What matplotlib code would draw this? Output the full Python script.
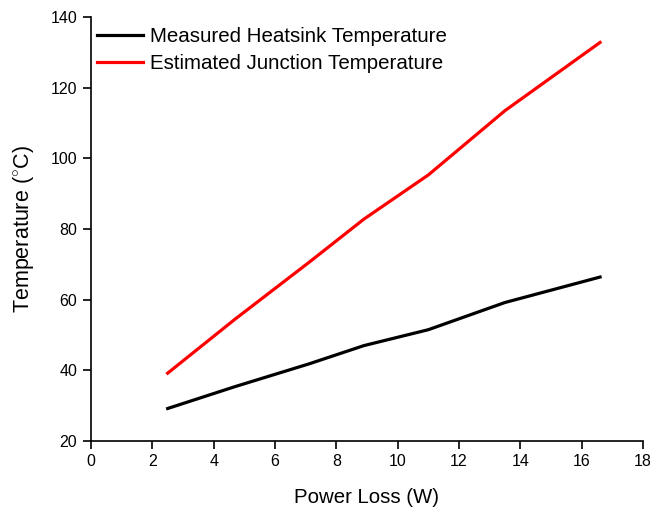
import matplotlib
matplotlib.use("Agg")
import matplotlib.pyplot as plt

plt.rcParams['font.family'] = ['Liberation Sans', 'DejaVu Sans']
plt.rcParams['mathtext.fontset'] = 'custom'
plt.rcParams['mathtext.rm'] = 'Liberation Sans'

power_loss = [2.5, 4.7, 7.1, 8.9, 11.0, 13.5, 16.6]
heatsink_temp = [29.2, 35.4, 41.8, 47.0, 51.5, 59.2, 66.4]
junction_temp = [39.2, 54.5, 70.5, 82.8, 95.3, 113.5, 132.8]

x_ticks = [0, 2, 4, 6, 8, 10, 12, 14, 16, 18]
y_ticks = [20, 40, 60, 80, 100, 120, 140]

fig = plt.figure(figsize=(6.57, 5.11), dpi=100)
ax = fig.add_axes([91 / 657, 1 - 441 / 511, (643 - 91) / 657, (441 - 17) / 511])

ax.plot(power_loss, heatsink_temp, color='black', lw=2.3, label='Measured Heatsink Temperature')
ax.plot(power_loss, junction_temp, color='#ff0000', lw=2.3, label='Estimated Junction Temperature')

ax.set_xlim(0, 18)
ax.set_ylim(20, 140)
ax.set_xticks(x_ticks)
ax.set_yticks(y_ticks)
ax.spines['top'].set_visible(False)
ax.spines['right'].set_visible(False)
for s in ('left', 'bottom'):
    ax.spines[s].set_linewidth(1.2)
ax.tick_params(axis='y', direction='out', length=6, width=1.2, labelsize=11.5, pad=4)
ax.tick_params(axis='x', direction='out', length=6, width=1.2, labelsize=11.5, pad=3)

ax.set_xlabel('Power Loss (W)', fontsize=14.7, labelpad=14)
ax.set_ylabel(r'Temperature ($^{\circ}$C)', fontsize=15.5, labelpad=10)

ax.legend(loc='upper left', frameon=False, fontsize=14.8, handlelength=2.25,
          handletextpad=0.33, labelspacing=0.38, borderpad=0.2, borderaxespad=0.0,
          bbox_to_anchor=(2 / 552, 1 - 6 / 424))

fig.savefig('out.png', dpi=100)
